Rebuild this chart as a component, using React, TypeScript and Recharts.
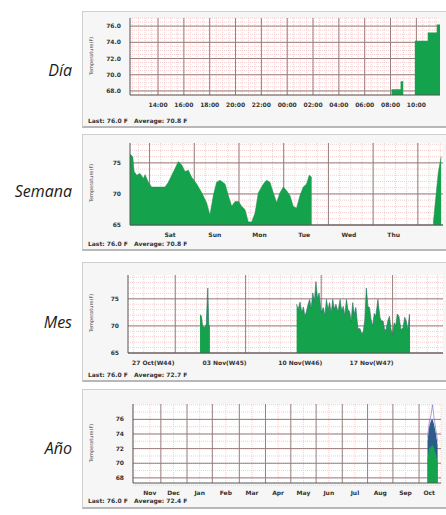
import React from "react";
import { Area, Line, ComposedChart, XAxis, YAxis, CartesianGrid } from "recharts";

// ---- Día (hours since graph start)
const dayHours = [20.25, 20.95, 21.15, 21.6, 22.05, 23.05, 23.75, 24];
const dayTemps = [68.2, 69.2, 69.2, null, 74.2, 75.2, 76.2, 76.2];
const dayTickLabels = ["14:00", "16:00", "18:00", "20:00", "22:00", "00:00", "02:00", "04:00", "06:00", "08:00", "10:00"];

// ---- Semana (hours since graph start)
const weekHours = [
  0, 1.5, 2.2, 3.6, 5.4, 7.2, 8.1, 9.8, 11.6, 13.4, 16.1, 18.8, 20.6, 22.4, 24.2, 25.9, 27.7, 29.5, 31.3, 33.1,
  35.8, 38.5, 41.1, 42.9, 44.7, 46.5, 48.3, 51.0, 52.8, 54.6, 56.4, 58.2, 59.9, 61.7, 63.5, 65.3, 67.1, 68.9,
  71.6, 73.3, 75.1, 76.9, 78.7, 80.5, 82.3, 84.1, 85.9, 87.6, 89.4, 91.2, 93.0, 94.8, 96.2, 97.5,
  130, 162.8, 164, 165.5, 167,
];
const weekTemps = [
  76.4, 76.0, 73.6, 73.0, 73.3, 72.5, 73.1, 71.9, 71.1, 71.1, 71.1, 71.1, 71.9, 73.0, 74.1, 75.2, 74.7, 73.6, 73.8, 72.7,
  71.6, 70.2, 68.6, 66.6, 69.7, 71.9, 72.2, 71.6, 69.7, 68.0, 68.8, 68.8, 68.0, 67.5, 65.5, 65.5, 66.9, 70.2,
  71.6, 72.2, 71.9, 70.2, 68.6, 70.2, 71.1, 70.5, 69.7, 68.0, 67.7, 69.7, 71.1, 71.6, 73.0, 72.7,
  null, 65.3, 69.0, 73.5, 76.0,
];
const weekTickLabels = ["Sat", "Sun", "Mon", "Tue", "Wed", "Thu"];

// ---- Mes (days since graph start)
const monthDays = [
  6.86, 7.0, 7.1, 7.3, 7.45, 7.6, 7.7, 7.8, 10,
  16.06, 16.2, 16.38, 16.55, 16.7, 16.85, 17.0, 17.15, 17.3, 17.45, 17.6, 17.75, 17.9, 18.05, 18.2, 18.4,
  18.6, 18.75, 18.9, 19.05, 19.2, 19.35, 19.5, 19.65, 19.8, 20.0, 20.2, 20.35, 20.5, 20.65, 20.8, 20.95,
  21.1, 21.25, 21.4, 21.55, 21.7, 21.9, 22.1, 22.25, 22.4, 22.55, 22.7, 22.85, 23.0, 23.15, 23.3, 23.45,
  23.6, 23.8, 24.0, 24.15, 24.3, 24.45, 24.6, 24.75, 24.9, 25.05, 25.2, 25.35, 25.5, 25.65, 25.8, 26.0,
  26.2, 26.35, 26.5, 26.65, 26.8, 26.86,
];
const monthTemps = [
  72.1, 71.8, 70.0, 69.7, 70.3, 77.0, 70.0, 70.0, null,
  74.0, 73.0, 74.4, 72.5, 73.5, 71.8, 72.7, 74.0, 74.9, 73.2, 76.1, 74.5, 78.2, 75.0, 76.1, 72.5,
  73.4, 71.9, 74.9, 73.0, 74.3, 72.4, 74.9, 73.1, 74.0, 72.6, 74.9, 72.8, 73.6, 71.9, 74.9, 73.0,
  72.7, 70.8, 74.3, 72.1, 73.4, 69.5, 69.5, 68.6, 68.9, 71.0, 77.0, 73.6, 73.4, 71.2, 70.0, 72.3,
  71.8, 74.9, 71.5, 70.9, 70.9, 69.1, 69.5, 71.0, 71.8, 69.4, 68.3, 70.6, 70.0, 72.2, 71.8, 69.3,
  69.7, 71.6, 70.9, 69.2, 72.1, 72.1,
];
const monthTickLabels = ["27 Oct(W44)", "03 Nov(W45)", "10 Nov(W46)", "17 Nov(W47)"];

// ---- Año (days since graph start)
const yearDays = [349, 351, 353, 355, 357, 359, 361];
const yearAvg = [70.5, 72.0, 72.3, 72.5, 72.0, 71.2, 70.2];
const yearMax = [73.0, 75.0, 75.8, 76.0, 75.2, 74.0, 72.5];
const yearPeak = [73.5, 75.5, 76.5, 78.0, 76.0, 74.5, 73.0];
const yearTickLabels = ["Nov", "Dec", "Jan", "Feb", "Mar", "Apr", "May", "Jun", "Jul", "Aug", "Sep", "Oct"];

const GREEN = "#15a24d";
const MAJOR = "#9a7c7c";
const MINOR = "#f6cdcd";

const steps = (from: number, to: number, step: number) => {
  const out: number[] = [];
  for (let v = from; v <= to + 1e-9; v += step) out.push(Number(v.toFixed(3)));
  return out;
};

const tickStyle = { fontSize: 6, fontFamily: "DejaVu Sans", fontWeight: 700, fill: "#333" };

interface PanelProps {
  title: string;
  titleY: number;
  boxTop: number;
  boxHeight: number;
  plot: { left: number; top: number; right: number; bottom: number };
  data: any[];
  xDomain: [number, number];
  xTicks: number[];
  xLabels: string[];
  yDomain: [number, number];
  yTicks: number[];
  yDecimals: number;
  majorX: number[];
  minorX: number[];
  majorY: number[];
  minorY: number[];
  legend: string;
  legendY: number;
  children: React.ReactNode;
}

const CHART_LEFT = 82;
const CHART_WIDTH = 364;
const X_AXIS_H = 12;

function Panel(p: PanelProps) {
  const { plot } = p;
  const margin = {
    top: plot.top - p.boxTop,
    right: CHART_LEFT + CHART_WIDTH - plot.right,
    bottom: p.boxTop + p.boxHeight - plot.bottom - X_AXIS_H,
    left: 0,
  };
  return (
    <>
      <div
        style={{
          position: "absolute",
          left: CHART_LEFT,
          top: p.boxTop,
          width: 380,
          height: p.boxHeight,
          boxSizing: "border-box",
          border: "1px solid #cfcfcf",
          borderBottom: "2px solid #b8b8b8",
          background: "#f6f6f6",
        }}
      />
      <div
        style={{
          position: "absolute",
          left: 0,
          width: 72,
          top: p.titleY - 11,
          textAlign: "right",
          fontFamily: "Open Sans",
          fontStyle: "italic",
          fontSize: 16,
          color: "#1b1b1b",
        }}
      >
        {p.title}
      </div>
      <div
        style={{
          position: "absolute",
          left: 91 - 30,
          top: (plot.top + plot.bottom) / 2 - 4,
          width: 60,
          textAlign: "center",
          transform: "rotate(-90deg)",
          fontFamily: "DejaVu Sans",
          fontSize: 5,
          color: "#444",
        }}
      >
        Temperature(F)
      </div>
      <div
        style={{
          position: "absolute",
          left: 88,
          top: p.legendY - 4,
          fontFamily: "DejaVu Sans",
          fontWeight: 700,
          fontSize: 6,
          color: "#333",
          whiteSpace: "pre",
        }}
      >
        {p.legend}
      </div>
      <div style={{ position: "absolute", left: CHART_LEFT, top: p.boxTop }}>
        <ComposedChart width={CHART_WIDTH} height={p.boxHeight} data={p.data} margin={margin}>
          <CartesianGrid
            fill="#ffffff"
            stroke={MINOR}
            strokeDasharray="1 1"
            horizontalValues={p.minorY}
            verticalValues={p.minorX}
          />
          <CartesianGrid stroke={MAJOR} horizontalValues={p.majorY} verticalValues={p.majorX} />
          <XAxis
            dataKey="x"
            type="number"
            domain={p.xDomain}
            allowDataOverflow
            ticks={p.xTicks}
            tickFormatter={(_v: number, i: number) => p.xLabels[i]}
            interval={0}
            height={X_AXIS_H}
            tickLine={false}
            tickMargin={2}
            stroke="#555"
            tick={tickStyle}
          />
          <YAxis
            type="number"
            domain={p.yDomain}
            allowDataOverflow
            ticks={p.yTicks}
            tickFormatter={(v: number) => v.toFixed(p.yDecimals)}
            interval={0}
            width={plot.left - CHART_LEFT}
            tickLine={false}
            tickMargin={3}
            stroke="#555"
            tick={tickStyle}
          />
          {p.children}
        </ComposedChart>
      </div>
    </>
  );
}

export default function App() {
  const dayData = dayHours.map((x, i) => ({ x, temp: dayTemps[i] }));
  const weekData = weekHours.map((x, i) => ({ x, temp: weekTemps[i] }));
  const monthData = monthDays.map((x, i) => ({ x, temp: monthTemps[i] }));
  const yearData = yearDays.map((x, i) => ({ x, avg: yearAvg[i], max: yearMax[i], peak: yearPeak[i] }));

  const dayXTicks = dayTickLabels.map((_, i) => 2.17 + 2 * i);
  const weekXTicks = weekTickLabels.map((_, i) => 21.5 + 24 * i);
  const monthXTicks = [2.4, 9.2, 16.4, 23.2];
  const yearXTicks = [20, 48, 79, 110, 141, 172, 202, 232, 263, 293, 323, 351];

  return (
    <div
      style={{
        position: "fixed",
        left: 0,
        top: 0,
        width: 446,
        height: 515,
        overflow: "hidden",
        background: "#fff",
      }}
    >
      <Panel
        title="Día"
        titleY={70}
        boxTop={11}
        boxHeight={117}
        plot={{ left: 130, top: 18, right: 440, bottom: 95 }}
        data={dayData}
        xDomain={[0, 24]}
        xTicks={dayXTicks}
        xLabels={dayTickLabels}
        yDomain={[67.5, 77]}
        yTicks={[68, 70, 72, 74, 76]}
        yDecimals={1}
        majorX={dayXTicks}
        minorX={steps(0.17, 24, 0.5)}
        majorY={[68, 70, 72, 74, 76]}
        minorY={steps(67.5, 77, 0.5)}
        legend={"Last: 76.0 F   Average: 70.8 F"}
        legendY={121}
      >
        <Area type="stepAfter" dataKey="temp" stroke="none" fill={GREEN} fillOpacity={1} isAnimationActive={false} />
      </Panel>

      <Panel
        title="Semana"
        titleY={191}
        boxTop={134}
        boxHeight={117}
        plot={{ left: 130, top: 143, right: 443, bottom: 225 }}
        data={weekData}
        xDomain={[0, 168]}
        xTicks={weekXTicks}
        xLabels={weekTickLabels}
        yDomain={[65, 78.2]}
        yTicks={[65, 70, 75]}
        yDecimals={0}
        majorX={steps(10.5, 168, 24)}
        minorX={steps(4.5, 168, 6)}
        majorY={[65, 70, 75]}
        minorY={steps(65, 78, 1)}
        legend={"Last: 76.0 F   Average: 70.8 F"}
        legendY={244}
      >
        <Area type="linear" dataKey="temp" stroke="#128a45" strokeWidth={0.5} fill={GREEN} fillOpacity={1} isAnimationActive={false} />
      </Panel>

      <Panel
        title="Mes"
        titleY={322}
        boxTop={262}
        boxHeight={120}
        plot={{ left: 128, top: 275, right: 443, bottom: 353 }}
        data={monthData}
        xDomain={[0, 30]}
        xTicks={monthXTicks}
        xLabels={monthTickLabels}
        yDomain={[65, 79.4]}
        yTicks={[65, 70, 75]}
        yDecimals={0}
        majorX={[4.5, 11.2, 18.4, 25.2]}
        minorX={steps(0.5, 30, 1)}
        majorY={[65, 70, 75]}
        minorY={steps(65, 79, 1)}
        legend={"Last: 76.0 F   Average: 72.7 F"}
        legendY={375}
      >
        <Area type="linear" dataKey="temp" stroke="#2a6f6a" strokeWidth={0.6} fill={GREEN} fillOpacity={1} isAnimationActive={false} />
      </Panel>

      <Panel
        title="Año"
        titleY={448}
        boxTop={389}
        boxHeight={120}
        plot={{ left: 133, top: 404, right: 441, bottom: 483 }}
        data={yearData}
        xDomain={[0, 365]}
        xTicks={yearXTicks}
        xLabels={yearTickLabels}
        yDomain={[67.3, 78.1]}
        yTicks={[68, 70, 72, 74, 76]}
        yDecimals={0}
        majorX={[33, 64, 94, 126, 157, 187, 217, 248, 278, 308, 339]}
        minorX={[]}
        majorY={[68, 70, 72, 74, 76]}
        minorY={steps(67, 78, 1)}
        legend={"Last: 76.0 F   Average: 72.4 F"}
        legendY={501}
      >
        <Area type="linear" dataKey="max" stroke="none" fill="#2d5b8c" fillOpacity={1} isAnimationActive={false} />
        <Area type="linear" dataKey="avg" stroke="none" fill={GREEN} fillOpacity={1} isAnimationActive={false} />
        <Line type="linear" dataKey="peak" stroke="#8b74c9" strokeWidth={0.7} dot={false} isAnimationActive={false} />
      </Panel>
    </div>
  );
}
